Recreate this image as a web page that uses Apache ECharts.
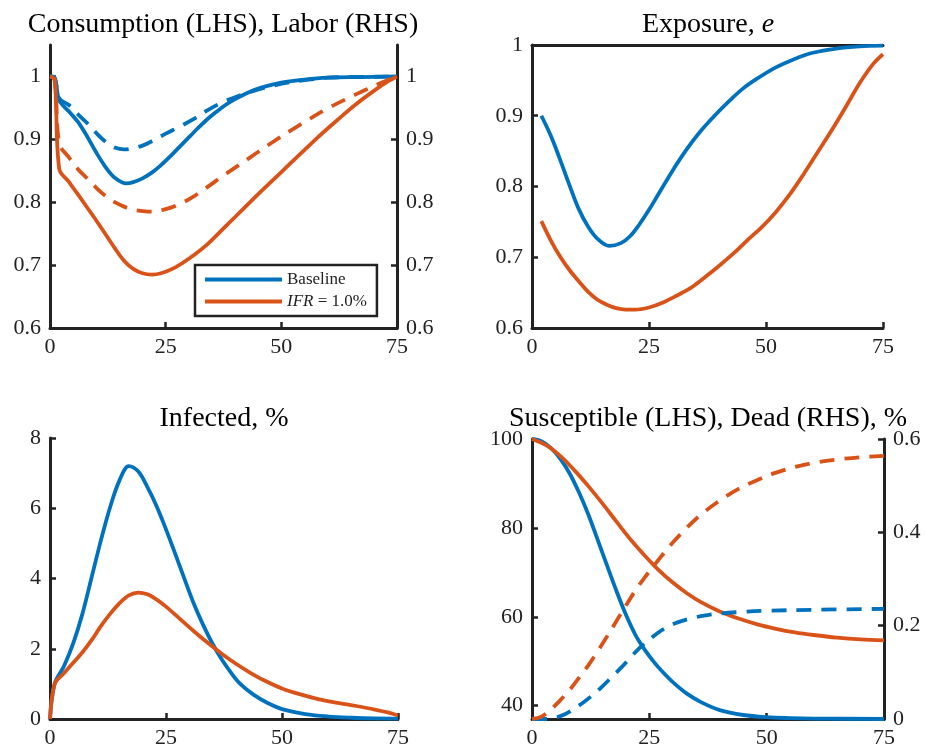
<!DOCTYPE html>
<html>
    <head>
        <meta charset=utf-8>
    </head>
    <body style="margin:0;background:#fff">
        <div id="chart" style="width:925px;height:750px"></div>
        <script src="https://cdn.jsdelivr.net/npm/echarts@6/dist/echarts.min.js"></script>
        <script type="text/javascript">

            var myChart = echarts.init(document.querySelector('#chart'));

            // weeks on x, [week, value]
            let xTicks = [0, 25, 50, 75]

            // consumption / labor
            let consBase = [[0,1],[1,0.998],[2,0.962],[4,0.945],[6,0.928],[8,0.905],[10,0.879],[12,0.856],[14,0.839],[16.5,0.830],[18,0.832],[20,0.838],[22,0.847],[24,0.859],[26,0.873],[28,0.888],[30,0.903],[32,0.918],[34,0.932],[36,0.944],[38,0.955],[40,0.964],[43,0.975],[46,0.983],[50,0.990],[55,0.995],[60,0.998],[67,0.999],[75,1.0]]
            let labBase = [[0,1],[1,0.998],[2,0.965],[4,0.955],[6,0.94],[8,0.926],[10,0.91],[12,0.896],[14,0.887],[16,0.884],[18,0.886],[20,0.890],[22,0.897],[25,0.909],[28,0.920],[31,0.932],[34,0.946],[37,0.958],[40,0.967],[44,0.977],[48,0.985],[52,0.991],[56,0.995],[60,0.998],[65,0.999],[75,1.0]]
            let consIfr = [[0,1],[1,0.995],[2,0.853],[4,0.833],[6,0.813],[8,0.792],[10,0.771],[12,0.749],[14,0.727],[16,0.707],[18,0.694],[20,0.687],[22,0.685],[24,0.687],[27,0.696],[30,0.71],[34,0.733],[38,0.762],[42,0.791],[46,0.82],[50,0.848],[54,0.876],[58,0.904],[62,0.93],[66,0.955],[70,0.977],[73,0.992],[75,1.0]]
            let labIfr = [[0,1],[1,0.995],[2,0.893],[4,0.872],[6,0.853],[8,0.838],[10,0.823],[12,0.81],[14,0.8],[16,0.793],[18,0.788],[20,0.786],[22,0.785],[25,0.789],[28,0.797],[31,0.809],[34,0.824],[37,0.84],[40,0.855],[44,0.875],[48,0.895],[52,0.914],[56,0.932],[60,0.949],[64,0.964],[68,0.978],[72,0.991],[75,1.0]]

            // exposure
            let expBase = [[2,0.9],[4,0.872],[6,0.838],[8,0.802],[10,0.768],[12,0.743],[14,0.726],[16.5,0.716],[19,0.72],[21,0.73],[23,0.747],[25,0.767],[27,0.789],[30,0.822],[33,0.852],[36,0.878],[39,0.9],[42,0.92],[45,0.938],[48,0.952],[52,0.968],[56,0.98],[60,0.989],[65,0.995],[70,0.998],[75,0.999]]
            let expIfr = [[2,0.751],[4,0.724],[6,0.701],[8,0.682],[10,0.666],[12,0.651],[14,0.64],[16,0.633],[18,0.628],[20,0.626],[22,0.626],[25,0.629],[28,0.636],[31,0.646],[34,0.657],[37,0.672],[40,0.688],[43,0.705],[46,0.724],[49,0.742],[52,0.763],[55,0.788],[58,0.817],[61,0.848],[64,0.879],[67,0.912],[70,0.946],[73,0.974],[75,0.987]]

            // infected, %
            let infBase = [[0,0],[1,1.0],[3,1.5],[5,2.15],[7,3.0],[9,4.05],[11,5.1],[13,6.05],[15,6.8],[17,7.2],[19,7.05],[21,6.6],[23,6.05],[25,5.4],[27,4.7],[29,3.98],[31,3.28],[33,2.68],[35,2.15],[37,1.7],[39,1.32],[41,1.0],[44,0.68],[47,0.45],[50,0.28],[55,0.14],[60,0.07],[65,0.035],[70,0.015],[75,0.01]]
            let infIfr = [[0,0],[1,1.0],[3,1.3],[5,1.6],[7,1.9],[9,2.25],[11,2.65],[13,3.0],[15,3.3],[17,3.52],[19,3.6],[21,3.55],[23,3.4],[25,3.2],[28,2.85],[31,2.5],[34,2.17],[37,1.86],[40,1.58],[43,1.33],[46,1.11],[50,0.87],[54,0.7],[58,0.56],[62,0.46],[66,0.37],[70,0.27],[73,0.18],[75,0.1]]

            // susceptible (LHS), dead (RHS), %
            let susBase = [[0,100],[2,99.5],[4,98],[6,95.6],[8,92.3],[10,88],[12,83],[14,77.3],[16,71.5],[18,65.8],[20,60.5],[22,56],[24,52.6],[26,49.8],[28,47.4],[30,45.3],[33,42.7],[36,40.8],[40,39.0],[45,37.9],[50,37.4],[55,37.2],[60,37.1],[75,37.0]]
            let susIfr = [[0,100],[3,98.6],[6,96.2],[9,93],[12,89.4],[15,85.5],[18,81.4],[21,77.4],[24,73.8],[27,70.5],[30,67.7],[33,65.3],[36,63.3],[40,61.2],[44,59.6],[48,58.3],[52,57.3],[56,56.5],[60,55.9],[65,55.3],[70,54.9],[75,54.7]]
            let deadBase = [[0,0],[3,0.0],[5,0.003],[7,0.01],[9,0.022],[11,0.036],[13,0.052],[15,0.07],[17,0.09],[19,0.11],[21,0.132],[23,0.153],[25,0.17],[27,0.186],[29,0.198],[31,0.207],[34,0.216],[37,0.222],[40,0.226],[44,0.229],[50,0.232],[60,0.234],[75,0.236]]
            let deadIfr = [[0,0],[2,0.005],[4,0.02],[6,0.04],[8,0.062],[10,0.088],[12,0.115],[14,0.145],[16,0.177],[18,0.21],[20,0.243],[22,0.275],[24,0.303],[26,0.329],[28,0.354],[30,0.378],[33,0.41],[36,0.438],[40,0.468],[44,0.493],[48,0.512],[52,0.528],[56,0.54],[60,0.549],[65,0.556],[70,0.561],[75,0.564]]

            let blue = '#0072BD'
            let orange = '#D95319'
            let ink = '#222'
            let font = '"Liberation Serif", "Times New Roman", serif'

            function xAx(gi) {
                return {
                    type: 'value', gridIndex: gi, min: 0, max: 75, interval: 25,
                    axisLine: {onZero: false, lineStyle: {color: ink, width: 3}},
                    axisTick: {inside: true, length: 6, lineStyle: {color: ink, width: 2.5}},
                    axisLabel: {color: ink, fontSize: 22, fontFamily: font, margin: 8},
                    splitLine: {show: false}
                }
            }
            function yAx(gi, pos, min, max, interval, custom) {
                let a = {
                    type: 'value', gridIndex: gi, position: pos, min: min, max: max,
                    axisLine: {show: true, onZero: false, lineStyle: {color: ink, width: 3}},
                    axisTick: {show: true, inside: true, length: 6, lineStyle: {color: ink, width: 2.5}},
                    axisLabel: {color: ink, fontSize: 22, fontFamily: font, margin: 9},
                    splitLine: {show: false}
                }
                if (custom) {
                    a.axisTick.customValues = custom
                    a.axisLabel.customValues = custom
                } else {
                    a.interval = interval
                }
                return a
            }
            function line(name, data, color, dashed, xi, yi) {
                return {
                    name: name, type: 'line', data: data, xAxisIndex: xi, yAxisIndex: yi,
                    symbol: 'none', smooth: 0.35, clip: false, silent: true,
                    lineStyle: {color: color, width: 3.8, type: dashed ? [15, 10] : 'solid'},
                    itemStyle: {color: color}
                }
            }
            function ttl(text, x, y) {
                return {
                    text: text, left: x, top: y, textAlign: 'center', padding: 0,
                    textStyle: {color: '#000', fontSize: 28, fontWeight: 'normal', fontFamily: font,
                        rich: {i: {fontStyle: 'italic', fontSize: 28, fontFamily: font, color: '#000'}}}
                }
            }

            let topLine = {
                type: 'value', gridIndex: 1, position: 'top', min: 0, max: 75,
                axisLine: {onZero: false, lineStyle: {color: ink, width: 3}},
                axisTick: {show: false}, axisLabel: {show: false}, splitLine: {show: false}
            }

            let option = {
                animation: false,
                backgroundColor: '#fff',
                title: [
                    ttl('Consumption (LHS), Labor (RHS)', 223, 11),
                    ttl('Exposure, {i|e}', 708, 11),
                    ttl('Infected, %', 224, 405),
                    ttl('Susceptible (LHS), Dead (RHS), %', 708, 405)
                ],
                legend: {
                    data: ['Baseline', 'IFR'],
                    left: 195, top: 265,
                    orient: 'vertical',
                    icon: 'rect', itemWidth: 77, itemHeight: 4, itemGap: 5,
                    padding: [6, 10, 6, 10],
                    borderColor: ink, borderWidth: 2.5, backgroundColor: '#fff',
                    selectedMode: false,
                    textStyle: {color: ink, fontSize: 17, fontFamily: font,
                        rich: {i: {fontStyle: 'italic', fontSize: 17, fontFamily: font, color: ink}}},
                    formatter: function(name) {
                        return name === 'IFR' ? '{i|IFR} = 1.0%' : name
                    }
                },
                grid: [
                    {left: 50, top: 45, width: 347, height: 283},
                    {left: 532, top: 45, width: 351, height: 283},
                    {left: 50, top: 438, width: 348, height: 281},
                    {left: 532, top: 439, width: 352, height: 280}
                ],
                xAxis: [xAx(0), xAx(1), xAx(2), xAx(3), topLine],
                yAxis: [
                    yAx(0, 'left', 0.6, 1.05, null, [0.6, 0.7, 0.8, 0.9, 1]),
                    yAx(0, 'right', 0.6, 1.05, null, [0.6, 0.7, 0.8, 0.9, 1]),
                    yAx(1, 'left', 0.6, 1, 0.1),
                    yAx(2, 'left', 0, 8, 2),
                    yAx(3, 'left', 37, 100, null, [40, 60, 80, 100]),
                    yAx(3, 'right', 0, 0.6, 0.2)
                ],
                series: [
                    line('Baseline', consBase, blue, false, 0, 0),
                    line('IFR', consIfr, orange, false, 0, 0),
                    line('labBase', labBase, blue, true, 0, 1),
                    line('labIfr', labIfr, orange, true, 0, 1),

                    line('expBase', expBase, blue, false, 1, 2),
                    line('expIfr', expIfr, orange, false, 1, 2),

                    line('infBase', infBase, blue, false, 2, 3),
                    line('infIfr', infIfr, orange, false, 2, 3),

                    line('susBase', susBase, blue, false, 3, 4),
                    line('susIfr', susIfr, orange, false, 3, 4),
                    line('deadBase', deadBase, blue, true, 3, 5),
                    line('deadIfr', deadIfr, orange, true, 3, 5)
                ]
            }
            myChart.setOption(option);
        </script>
    </body>
</html>
